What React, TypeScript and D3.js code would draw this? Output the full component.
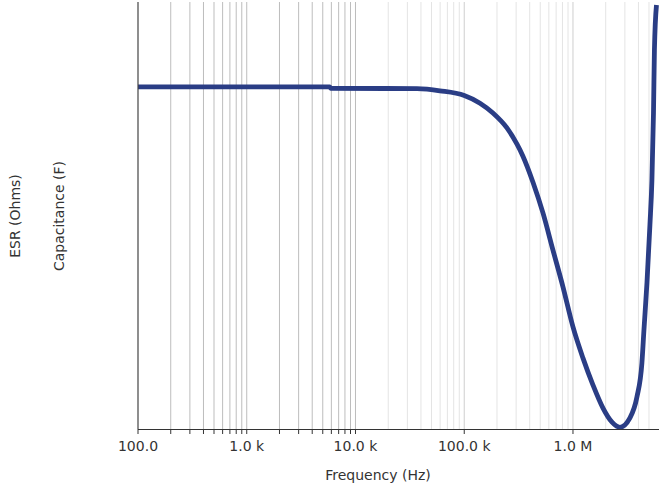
import React from "react";
import * as d3 from "d3";

// Frequency samples (Hz) and the plotted trace (arbitrary units, 0..100)
const freqs = [
  100, 1000, 5800, 5900, 36800, 59800, 100000, 139600, 183600, 247000,
  305600, 346600, 428600, 529500, 654500, 808800, 1000000, 1236000, 1528000,
  1888000, 2285000, 2704000, 3342000, 3873000, 4305000, 4494000, 4790000,
  5100000, 5320000, 5500000, 5610000, 5860000,
];
const values = [
  80.1, 80.1, 80.1, 79.8, 79.7, 79.2, 78.1, 76.3, 74.0, 70.5,
  66.7, 63.9, 57.8, 50.6, 41.9, 33.3, 23.9, 16.6, 10.3,
  4.9, 1.6, 0.4, 2.6, 7.5, 15.5, 23.2, 34.2,
  47.8, 58.3, 74.0, 88.8, 99.3,
];

const darkGrid = [200, 300, 400, 500, 600, 700, 800, 900, 1000, 2000, 3000, 4000, 5000, 6000, 7000, 8000, 9000, 10000];
const lightGrid = [20000, 30000, 40000, 50000, 60000, 70000, 80000, 90000, 200000, 300000, 400000, 500000, 600000, 700000, 800000, 900000, 2000000, 3000000, 4000000, 5000000];
const majorGrid = [100000, 1000000];
const tickValues = [100, 200, 300, 400, 500, 600, 700, 800, 900, 1000, 2000, 3000, 4000, 5000, 6000, 7000, 8000, 9000, 10000, 100000, 1000000];
const labelTicks = [100, 1000, 10000, 100000, 1000000];
const labelText = ["100.0", "1.0 k", "10.0 k", "100.0 k", "1.0 M"];

const W = 659;
const H = 488;
const left = 138;
const right = 657.6;
const top = 2;
const bottom = 429;

export default function App() {
  const x = d3.scaleLog().domain([100, 6e6]).range([left, right]);
  const y = d3.scaleLinear().domain([0, 100]).range([bottom, top]);
  const line = d3
    .line<number>()
    .x((_, i) => x(freqs[i]))
    .y((d) => y(d))
    .curve(d3.curveMonotoneX);
  const font = "DejaVu Sans, sans-serif";
  return (
    <svg
      width={W}
      height={H}
      style={{ position: "absolute", left: 0, top: 0, background: "#fff" }}
      fontFamily={font}
    >
      <defs>
        <clipPath id="plotclip">
          <rect x={left} y={0} width={W - left} height={bottom + 3} />
        </clipPath>
      </defs>
      {lightGrid.map((f) => (
        <line key={"l" + f} x1={x(f)} x2={x(f)} y1={top} y2={bottom} stroke="#e4e4e4" strokeWidth={1} />
      ))}
      {majorGrid.map((f) => (
        <line key={"m" + f} x1={x(f)} x2={x(f)} y1={top} y2={bottom} stroke="#cfcfcf" strokeWidth={1} />
      ))}
      {darkGrid.map((f) => (
        <line key={"d" + f} x1={x(f)} x2={x(f)} y1={top} y2={bottom} stroke="#bdbdbd" strokeWidth={1} />
      ))}
      <path
        d={line(values) || ""}
        fill="none"
        stroke="#2a3d85"
        strokeWidth={4.8}
        clipPath="url(#plotclip)"
      />
      <line x1={left} x2={left} y1={top} y2={bottom} stroke="#444" strokeWidth={1.2} />
      <line x1={left} x2={W} y1={bottom + 0.5} y2={bottom + 0.5} stroke="#333" strokeWidth={1} />
      {tickValues.map((f) => (
        <line key={"t" + f} x1={x(f)} x2={x(f)} y1={bottom} y2={bottom + 5} stroke="#333" strokeWidth={1} />
      ))}
      {labelTicks.map((f, i) => (
        <text key={"lab" + f} x={x(f)} y={451} textAnchor="middle" fontSize={14} fill="#333">
          {labelText[i]}
        </text>
      ))}
      <text x={378} y={480} textAnchor="middle" fontSize={14} fill="#333">
        Frequency (Hz)
      </text>
      <text transform="translate(64,216) rotate(-90)" textAnchor="middle" fontSize={14} fill="#333">
        Capacitance (F)
      </text>
      <text transform="translate(20,216) rotate(-90)" textAnchor="middle" fontSize={14} fill="#333">
        ESR (Ohms)
      </text>
    </svg>
  );
}
